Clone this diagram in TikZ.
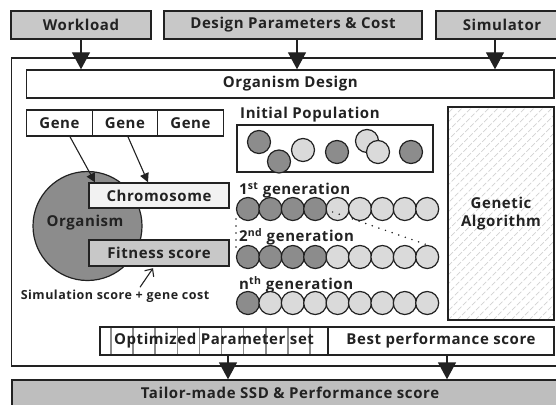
\documentclass[tikz,border=0pt]{standalone}
\usepackage{fontspec}
\setmainfont{Open Sans}[LetterSpace=4]
\usetikzlibrary{arrows.meta,backgrounds}
\definecolor{txt}{HTML}{222222}
\definecolor{boxgray}{HTML}{C8C8C8}
\definecolor{botgray}{HTML}{BEBEBE}
\definecolor{darkc}{HTML}{8C8C8C}
\definecolor{lightc}{HTML}{DADADA}
\definecolor{chrom}{HTML}{F2F2F2}
\definecolor{hatchc}{HTML}{D2D2D2}
\definecolor{divc}{HTML}{8C8C8C}
\begin{document}
\begin{tikzpicture}[x=1pt,y=-1pt,
  lbl/.style={font=\bfseries\fontsize{15}{18}\selectfont, text=txt},
  box/.style={lbl, draw=txt, line width=1.4pt, inner sep=0pt, anchor=center},
  pc/.style={circle, draw=txt, line width=1.2pt, minimum size=23pt, inner sep=0pt},
  dk/.style={pc, fill=darkc},
  lt/.style={pc, fill=lightc},
  bigarr/.style={draw=txt, line width=1.4pt, -{Triangle[width=18pt,length=17pt]}},
  genarr/.style={draw=txt, line width=1.1pt, -{Triangle[width=9pt,length=9pt]}},
  openarr/.style={draw=txt, line width=1.1pt, -{Straight Barb[width=11pt,length=6pt]}},
  dots/.style={draw=txt, line width=1.7pt, line cap=round, dash pattern=on 0pt off 7pt},
  hatchline/.style={draw=hatchc, line width=0.7pt, dash pattern=on 5pt off 2pt},
  divline/.style={draw=divc, line width=1.6pt}
]
\useasboundingbox (0,0) rectangle (556,404);
\clip (0,0) rectangle (556,404);

% outer container
\node[draw=txt, line width=1.4pt, minimum width=558.3pt, minimum height=308pt, inner sep=0pt] (outer) at (290.85,212) {};

% top inputs
\node[box, fill=boxgray, minimum width=140pt, minimum height=28pt] (wl) at (81,25) {Workload};
\node[box, fill=boxgray, minimum width=258pt, minimum height=28pt] (dp) at (293,25) {Design Parameters \& Cost};
\node[box, fill=boxgray, minimum width=132pt, minimum height=28pt] (si) at (502,25) {Simulator};

% organism design
\node[box, fill=white, minimum width=527.3pt, minimum height=28pt] (od) at (290.35,84) {Organism Design};

\draw[bigarr] (wl.south) -- (wl.south |- od.north);
\coordinate (d1) at ([xshift=4pt]dp.south);
\draw[bigarr] (d1) -- (d1 |- od.north);
\coordinate (s1) at ([xshift=-7pt]si.south);
\draw[bigarr] (s1) -- (s1 |- od.north);

% genes
\node[box, fill=white, minimum width=65.5pt, minimum height=26pt] (g1) at (59.45,123) {Gene};
\node[box, fill=white, minimum width=65.5pt, minimum height=26pt] (g2) at (124.95,123) {Gene};
\node[box, fill=white, minimum width=65.5pt, minimum height=26pt] (g3) at (190.45,123) {Gene};

% organism
\node[circle, fill=darkc, draw=txt, line width=1.2pt, minimum size=109pt, inner sep=0pt] (org) at (87.5,226) {};
\node[lbl] (orgt) at (85,223) {Organism};
\node[box, fill=chrom, minimum width=140pt, minimum height=25pt] (chr) at (159,195.5) {Chromosome};
\node[box, fill=boxgray, minimum width=140pt, minimum height=26pt] (fit) at (159,253) {Fitness score};

\draw[genarr] ([xshift=10.5pt]g1.south) -- ([xshift=-64pt]chr.north);
\draw[genarr] ([xshift=3pt]g2.south) -- ([xshift=-11pt]chr.north);

\node[font=\bfseries\fontsize{12.5}{15}\selectfont, text=txt] (sim) at (115,296) {Simulation score + gene cost};
\draw[openarr] ([xshift=25pt,yshift=-1pt]sim.north) -- ([xshift=-6pt,yshift=-1.5pt]fit.south);

% initial population
\node[lbl, anchor=west, inner sep=0pt] (ipl) at (240,115) {Initial Population};
\node[draw=txt, line width=1.4pt, fill=white, minimum width=196pt, minimum height=47pt, inner sep=0pt] (ipb) at (335,148.5) {};
\node[dk] (ic1) at (259,142) {};
\node[dk] (ic2) at (279,161.5) {};
\node[lt] (ic3) at (303,150) {};
\node[dk] (ic4) at (337,152) {};
\node[lt] (ic5) at (367,141) {};
\node[lt] (ic6) at (378,152) {};
\node[dk] (ic7) at (411,152) {};

% generations
\node[lbl, anchor=west, inner sep=0pt] (gl1) at (239,190) {1\textsuperscript{st} generation};
\node[lbl, anchor=west, inner sep=0pt] (gl2) at (239,237) {2\textsuperscript{nd} generation};
\node[lbl, anchor=west, inner sep=0pt] (gl3) at (239,285) {n\textsuperscript{th} generation};

\foreach \k in {1,...,9} {
  \pgfmathsetmacro{\xx}{248+22.4*(\k-1)}
  \ifnum\k<5 \node[dk] (ra\k) at (\xx,209) {}; \else \node[lt] (ra\k) at (\xx,209) {}; \fi
}
\foreach \k in {1,...,9} {
  \pgfmathsetmacro{\xx}{248+22.4*(\k-1)}
  \ifnum\k<5 \node[dk] (rb\k) at (\xx,257) {}; \else \node[lt] (rb\k) at (\xx,257) {}; \fi
}
\foreach \k in {1,...,9} {
  \pgfmathsetmacro{\xx}{248+22.4*(\k-1)}
  \ifnum\k<2 \node[dk] (rc\k) at (\xx,303) {}; \else \node[lt] (rc\k) at (\xx,303) {}; \fi
}
\draw[dots] ([xshift=-5pt,yshift=-3pt]ra5.center) -- (rb9.north);
\draw[dots] ([yshift=-10pt]ra1.west) -- ([yshift=9pt]rb1.west);

% genetic algorithm
\node[box, minimum width=106pt, minimum height=213pt, align=center,
  path picture={
    \foreach \i in {-26,...,14} {
      \draw[hatchline] ([xshift=\i*9pt]path picture bounding box.south west) -- ++(240pt,240pt);
    }
  }] (ga) at (501,213.5) {Genetic\\Algorithm};

% outputs
\node[box, minimum width=228pt, minimum height=28pt] (par) at (214,341) {Optimized Parameter set};
\begin{scope}[on background layer]
  \foreach \k in {0,...,9} {
    \draw[divline] ([xshift={11.7pt+22.1pt*\k}]par.north west) -- ([xshift={11.7pt+22.1pt*\k}]par.south west);
  }
\end{scope}
\node[box, minimum width=226pt, minimum height=28pt] (bp) at (441,341) {Best performance score};

\node[box, fill=botgray, minimum width=556pt, minimum height=26pt] (bot) at (290,393) {Tailor-made SSD \& Performance score};

\coordinate (a1) at ([xshift=14pt]par.south);
\draw[bigarr] (a1) -- (a1 |- bot.north);
\coordinate (a2) at ([xshift=6pt]bp.south);
\draw[bigarr] (a2) -- (a2 |- bot.north);
\end{tikzpicture}
\end{document}
